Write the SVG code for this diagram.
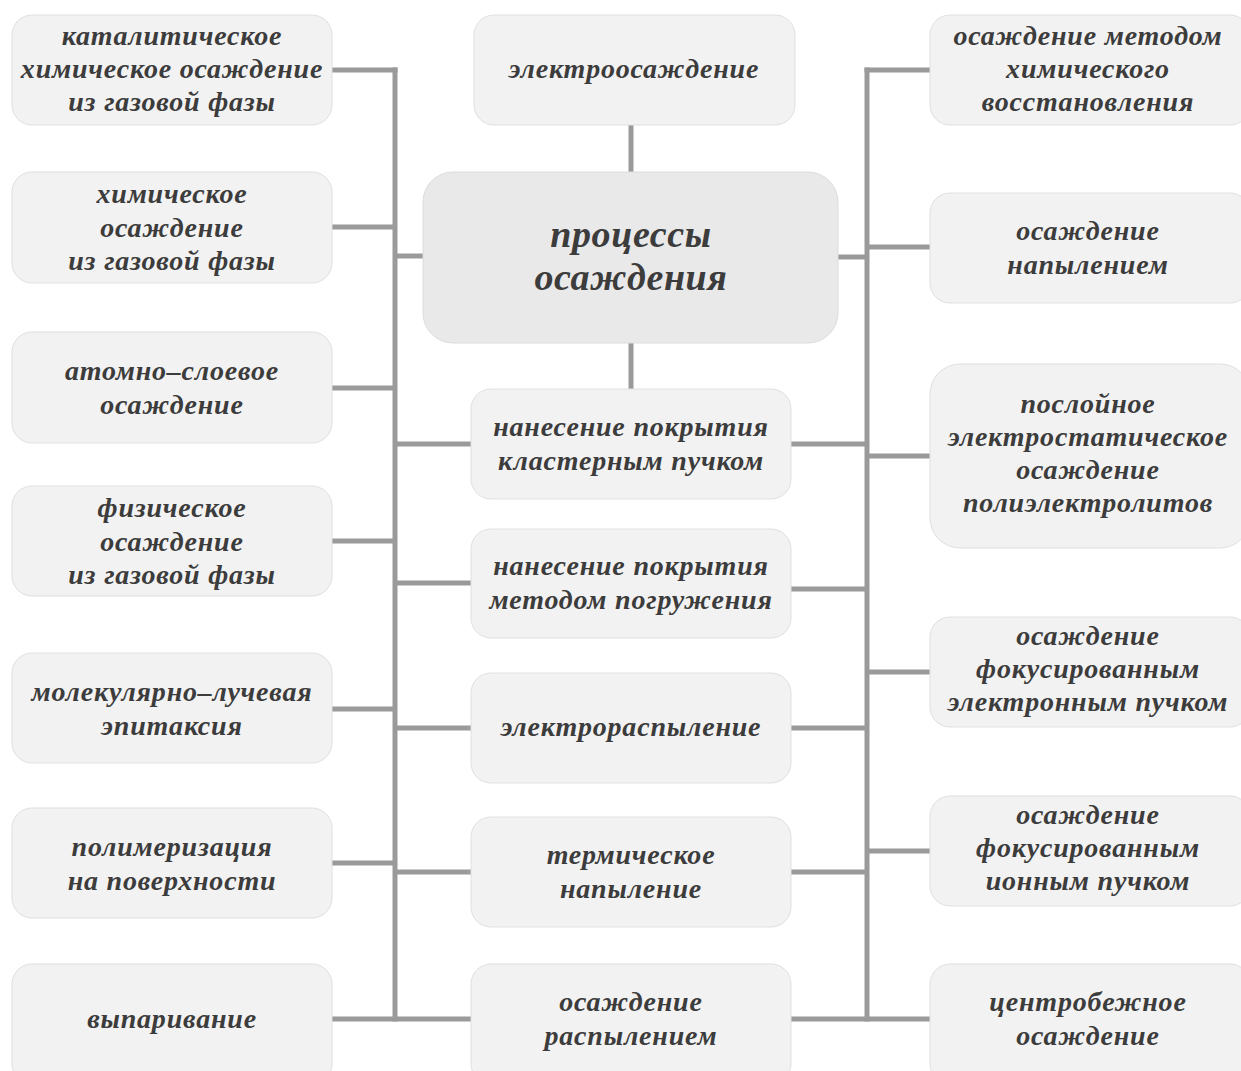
<svg xmlns="http://www.w3.org/2000/svg" width="1241" height="1071" viewBox="0 0 1241 1071">
  <style>
    .box { fill: #f3f2f2; stroke: #e1dfdf; stroke-width: 1; }
    .hub { fill: #e9e9e9; stroke: #dcdcdc; stroke-width: 1; }
    .wire { stroke: #9a9a9a; stroke-width: 5; fill: none; stroke-linecap: butt; }
  </style>
  <rect width="1241" height="1071" fill="#ffffff"/>

  <!-- connectors -->
  <g id="connectors" class="wire">
    <!-- top and bottom stubs of the hub -->
    <line x1="631" y1="125" x2="631" y2="172"/>
    <line x1="631" y1="343" x2="631" y2="389"/>
    <!-- left trunk -->
    <line x1="395" y1="67.5" x2="395" y2="1021.5"/>
    <line x1="332" y1="70" x2="397.5" y2="70"/>
    <line x1="332" y1="227" x2="395" y2="227"/>
    <line x1="332" y1="388" x2="395" y2="388"/>
    <line x1="332" y1="541" x2="395" y2="541"/>
    <line x1="332" y1="709" x2="395" y2="709"/>
    <line x1="332" y1="863" x2="395" y2="863"/>
    <line x1="332" y1="1019" x2="471" y2="1019"/>
    <line x1="395" y1="256" x2="423" y2="256"/>
    <line x1="395" y1="444" x2="471" y2="444"/>
    <line x1="395" y1="583" x2="471" y2="583"/>
    <line x1="395" y1="728" x2="471" y2="728"/>
    <line x1="395" y1="872" x2="471" y2="872"/>
    <!-- right trunk -->
    <line x1="867" y1="67.5" x2="867" y2="1021.5"/>
    <line x1="864.5" y1="70" x2="930" y2="70"/>
    <line x1="867" y1="247" x2="930" y2="247"/>
    <line x1="867" y1="456" x2="930" y2="456"/>
    <line x1="867" y1="672" x2="930" y2="672"/>
    <line x1="867" y1="851" x2="930" y2="851"/>
    <line x1="791" y1="1019" x2="930" y2="1019"/>
    <line x1="838" y1="257" x2="867" y2="257"/>
    <line x1="791" y1="444" x2="867" y2="444"/>
    <line x1="791" y1="589" x2="867" y2="589"/>
    <line x1="791" y1="728" x2="867" y2="728"/>
    <line x1="791" y1="872" x2="867" y2="872"/>
  </g>

  <!-- all labels share one serif bold-italic face -->
  <g font-family="Liberation Serif" font-style="italic" font-weight="bold" font-size="28" letter-spacing="0.8" fill="#3c3c3c" text-anchor="middle">
  <!-- left column -->
  <g id="n-catalytic-cvd">
    <rect class="box" x="12" y="15" width="320" height="110" rx="20"/>
    <text x="172"><tspan x="172" y="45">каталитическое</tspan><tspan x="172" y="78">химическое осаждение</tspan><tspan x="172" y="111">из газовой фазы</tspan></text>
  </g>
  <g id="n-cvd">
    <rect class="box" x="12" y="172" width="320" height="111" rx="20"/>
    <text x="172"><tspan x="172" y="203">химическое</tspan><tspan x="172" y="237">осаждение</tspan><tspan x="172" y="270">из газовой фазы</tspan></text>
  </g>
  <g id="n-ald">
    <rect class="box" x="12" y="332" width="320" height="111" rx="20"/>
    <text x="172"><tspan x="172" y="380">атомно–слоевое</tspan><tspan x="172" y="414">осаждение</tspan></text>
  </g>
  <g id="n-pvd">
    <rect class="box" x="12" y="486" width="320" height="110" rx="20"/>
    <text x="172"><tspan x="172" y="517">физическое</tspan><tspan x="172" y="551">осаждение</tspan><tspan x="172" y="584">из газовой фазы</tspan></text>
  </g>
  <g id="n-mbe">
    <rect class="box" x="12" y="653" width="320" height="110" rx="20"/>
    <text x="172"><tspan x="172" y="701">молекулярно–лучевая</tspan><tspan x="172" y="735">эпитаксия</tspan></text>
  </g>
  <g id="n-surface-polymerization">
    <rect class="box" x="12" y="808" width="320" height="110" rx="20"/>
    <text x="172"><tspan x="172" y="856">полимеризация</tspan><tspan x="172" y="890">на поверхности</tspan></text>
  </g>
  <g id="n-evaporation">
    <rect class="box" x="12" y="964" width="320" height="120" rx="20"/>
    <text x="172" y="1028">выпаривание</text>
  </g>

  <!-- middle column -->
  <g id="n-electrodeposition">
    <rect class="box" x="474" y="15" width="321" height="110" rx="20"/>
    <text x="634" y="78">электроосаждение</text>
  </g>
  <g id="n-deposition-processes">
    <rect class="hub" x="423" y="172" width="415" height="171" rx="30"/>
    <text x="631" font-size="38" letter-spacing="0.6"><tspan x="631" y="247">процессы</tspan><tspan x="631" y="290">осаждения</tspan></text>
  </g>
  <g id="n-cluster-beam">
    <rect class="box" x="471" y="389" width="320" height="110" rx="20"/>
    <text x="631"><tspan x="631" y="436">нанесение покрытия</tspan><tspan x="631" y="470">кластерным пучком</tspan></text>
  </g>
  <g id="n-dip-coating">
    <rect class="box" x="471" y="529" width="320" height="109" rx="20"/>
    <text x="631"><tspan x="631" y="575">нанесение покрытия</tspan><tspan x="631" y="609">методом погружения</tspan></text>
  </g>
  <g id="n-electrospray">
    <rect class="box" x="471" y="673" width="320" height="110" rx="20"/>
    <text x="631" y="736">электрораспыление</text>
  </g>
  <g id="n-thermal-spray">
    <rect class="box" x="471" y="817" width="320" height="110" rx="20"/>
    <text x="631"><tspan x="631" y="864">термическое</tspan><tspan x="631" y="898">напыление</tspan></text>
  </g>
  <g id="n-spray-deposition">
    <rect class="box" x="471" y="964" width="320" height="120" rx="20"/>
    <text x="631"><tspan x="631" y="1011">осаждение</tspan><tspan x="631" y="1045">распылением</tspan></text>
  </g>

  <!-- right column -->
  <g id="n-electroless">
    <rect class="box" x="930" y="15" width="320" height="110" rx="20"/>
    <text x="1088"><tspan x="1088" y="45">осаждение методом</tspan><tspan x="1088" y="78">химического</tspan><tspan x="1088" y="111">восстановления</tspan></text>
  </g>
  <g id="n-sputter">
    <rect class="box" x="930" y="193" width="320" height="110" rx="20"/>
    <text x="1088"><tspan x="1088" y="240">осаждение</tspan><tspan x="1088" y="274">напылением</tspan></text>
  </g>
  <g id="n-layer-by-layer">
    <rect class="box" x="930" y="364" width="320" height="184" rx="30"/>
    <text x="1088"><tspan x="1088" y="413">послойное</tspan><tspan x="1088" y="446">электростатическое</tspan><tspan x="1088" y="479">осаждение</tspan><tspan x="1088" y="512">полиэлектролитов</tspan></text>
  </g>
  <g id="n-febid">
    <rect class="box" x="930" y="617" width="320" height="110" rx="20"/>
    <text x="1088"><tspan x="1088" y="645">осаждение</tspan><tspan x="1088" y="678">фокусированным</tspan><tspan x="1088" y="711">электронным пучком</tspan></text>
  </g>
  <g id="n-fibid">
    <rect class="box" x="930" y="796" width="320" height="110" rx="20"/>
    <text x="1088"><tspan x="1088" y="824">осаждение</tspan><tspan x="1088" y="857">фокусированным</tspan><tspan x="1088" y="890">ионным пучком</tspan></text>
  </g>
  <g id="n-spin-coating">
    <rect class="box" x="930" y="964" width="320" height="120" rx="20"/>
    <text x="1088"><tspan x="1088" y="1011">центробежное</tspan><tspan x="1088" y="1045">осаждение</tspan></text>
  </g>
  </g>
</svg>
